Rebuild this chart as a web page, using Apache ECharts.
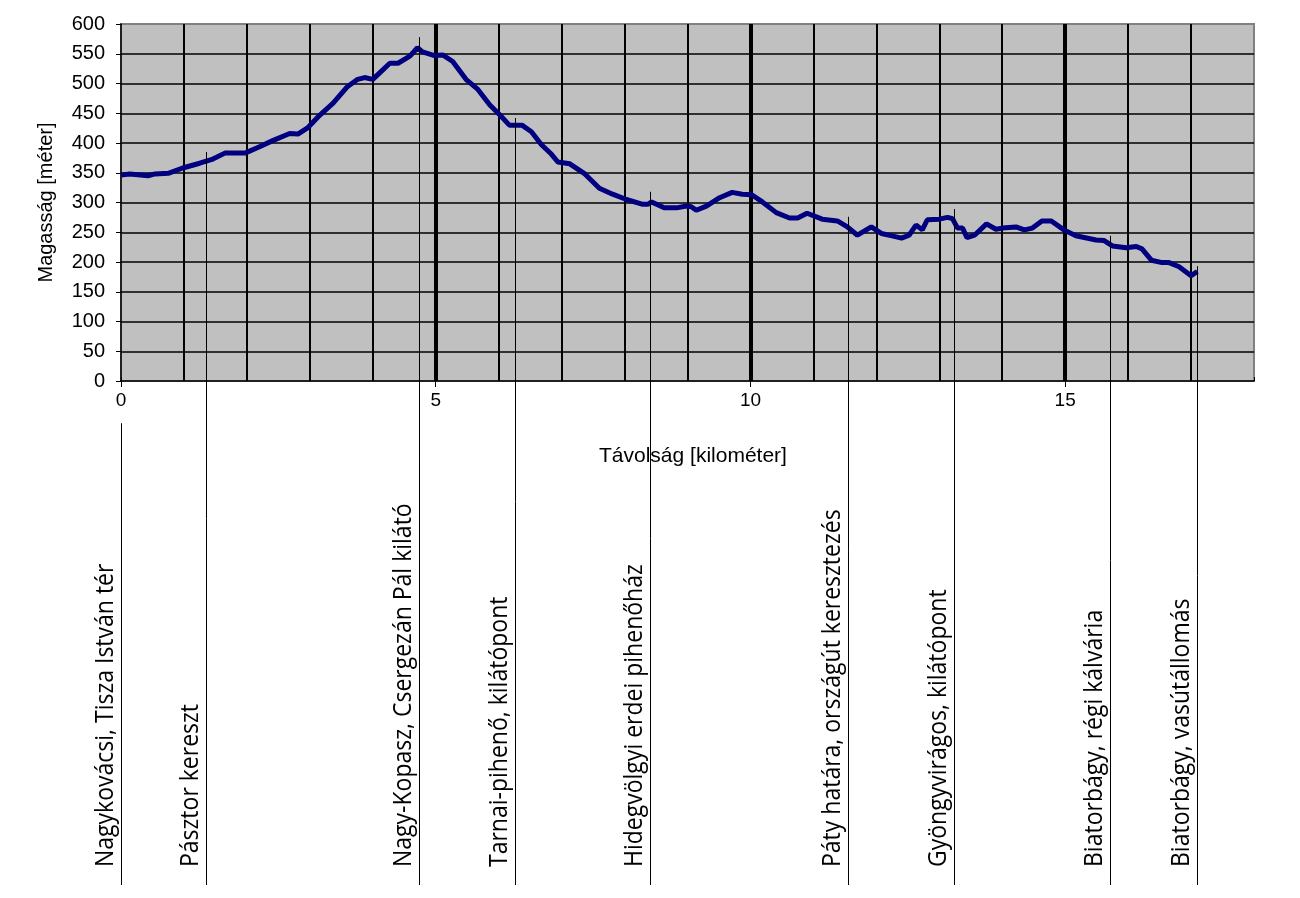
<!DOCTYPE html>
<html>
<head>
<meta charset="utf-8">
<script src="https://cdn.jsdelivr.net/npm/echarts@6/dist/echarts.min.js"></script>
<style>html,body{margin:0;padding:0;background:#fff;}#chart{width:1300px;height:898px;}</style>
</head>
<body>
<div id="chart"></div>
<script>
// Distance along route [km]
const distanceKm = [0.00,0.14,0.43,0.54,0.75,0.98,1.25,1.46,1.65,1.97,2.21,2.41,2.68,2.81,2.97,3.16,3.37,3.59,3.76,3.87,4.00,4.16,4.27,4.40,4.59,4.71,4.79,4.98,5.11,5.27,5.49,5.67,5.86,6.02,6.17,6.37,6.52,6.68,6.84,6.94,7.13,7.37,7.60,7.81,8.03,8.29,8.37,8.43,8.63,8.83,8.98,9.06,9.14,9.30,9.51,9.71,9.87,10.02,10.19,10.41,10.62,10.75,10.90,11.14,11.38,11.54,11.70,11.92,12.08,12.25,12.40,12.52,12.63,12.73,12.81,13.00,13.13,13.21,13.29,13.37,13.44,13.56,13.75,13.90,14.00,14.22,14.35,14.48,14.63,14.78,14.98,15.17,15.49,15.62,15.75,15.97,16.13,16.22,16.37,16.54,16.65,16.81,17.00,17.10];
// Elevation [m]
const elevationM = [346,348,345,348,349,358,366,373,383,383,394,404,416,415,426,447,467,494,507,510,507,523,534,534,546,560,553,547,548,537,506,490,464,447,430,430,419,397,381,368,365,348,324,314,305,297,297,301,291,291,294,293,287,294,308,317,314,313,301,283,274,274,282,272,269,259,245,259,248,244,240,245,262,254,271,272,275,273,257,257,241,245,264,255,257,259,254,257,269,269,254,244,237,236,227,224,226,222,203,199,199,192,177,184];

// Waypoints: name, distance [km], elevation where the marker line starts [m]
const waypointNames = ["Nagykovácsi, Tisza István tér","Pásztor kereszt","Nagy-Kopasz, Csergezán Pál kilátó","Tarnai-pihenő, kilátópont","Hidegvölgyi erdei pihenőház","Páty határa, országút keresztezés","Gyöngyvirágos, kilátópont","Biatorbágy, régi kálvária","Biatorbágy, vasútállomás"];
const waypointKm = [0.00,1.35,4.73,6.26,8.40,11.55,13.23,15.72,17.10];
const waypointTopM = [-71,385,578,442,318,276,289,244,193];

// Major distance marks (thick lines + labels)
const majorKm = [0,5,10,15];
const yTicks = {min:0,max:600,interval:50};
const xTicks = {min:0,max:18,minor:1};

const profile = distanceKm.map((d,i)=>[d, elevationM[i]]);
const waypoints = waypointNames.map((n,i)=>[waypointKm[i], waypointTopM[i], n]);

const chart = echarts.init(document.getElementById('chart'), null, {renderer:'canvas'});
const LINE_BOTTOM = 885, LABEL_BASE = 865;
const AX_FONT = 'Liberation Sans';

chart.setOption({
  animation:false,
  backgroundColor:'#ffffff',
  grid:{left:121,right:46,top:24,bottom:517,show:true,backgroundColor:'#c0c0c0',borderColor:'#808080',borderWidth:2},
  xAxis:[{
    type:'value',min:xTicks.min,max:xTicks.max,interval:xTicks.minor,
    axisLine:{show:true,lineStyle:{color:'#000',width:1.5}},
    axisTick:{show:true,inside:true,length:4,lineStyle:{color:'#000',width:1}},
    axisLabel:{show:false},
    splitLine:{show:true,showMinLine:false,showMaxLine:false,lineStyle:{color:'#000',width:2}}
  },{
    type:'value',min:xTicks.min,max:xTicks.max,position:'bottom',
    axisLine:{show:false},
    axisTick:{show:true,length:6,lineStyle:{color:'#000',width:1},customValues:majorKm},
    axisLabel:{show:true,margin:10,color:'#000',fontFamily:AX_FONT,fontSize:19,customValues:majorKm},
    splitLine:{show:false}
  }],
  yAxis:{
    type:'value',min:yTicks.min,max:yTicks.max,interval:yTicks.interval,
    name:'Magasság [méter]',nameLocation:'middle',nameGap:65,nameRotate:90,
    nameTextStyle:{color:'#000',fontFamily:AX_FONT,fontSize:20},
    axisLine:{show:true,lineStyle:{color:'#000',width:1.5}},
    axisTick:{show:true,length:5,lineStyle:{color:'#000',width:1}},
    axisLabel:{color:'#000',fontFamily:AX_FONT,fontSize:20,margin:16},
    splitLine:{show:true,showMinLine:false,showMaxLine:false,lineStyle:{color:'#000',width:1.5}}
  },
  graphic:[{
    type:'text',left:599,top:446,
    style:{text:'Távolság [kilométer]',font:'21px "Liberation Sans"',fill:'#000'}
  }],
  series:[{
    type:'line',data:[],xAxisIndex:0,z:1,silent:true,
    markLine:{silent:true,symbol:'none',label:{show:false},
      lineStyle:{color:'#000',width:4,type:'solid'},
      data:majorKm.filter(v=>v>xTicks.min).map(v=>({xAxis:v}))}
  },{
    type:'line',data:profile,xAxisIndex:0,showSymbol:false,smooth:false,z:5,
    lineStyle:{color:'#000080',width:5},
    silent:true
  },{
    type:'custom',xAxisIndex:0,data:waypoints,clip:false,z:6,silent:true,
    renderItem:function(params,api){
      const p = api.coord([api.value(0),api.value(1)]);
      const x = Math.round(p[0])+0.5;
      return {type:'group',children:[
        {type:'line',shape:{x1:x,y1:p[1],x2:x,y2:LINE_BOTTOM},style:{stroke:'#000',lineWidth:1}},
        {type:'text',x:x-3,y:LABEL_BASE+2,rotation:Math.PI/2,scaleY:1.1,
          style:{text:waypointNames[params.dataIndex],font:'23px "Open Sans"',fill:'#000',textAlign:'left',textVerticalAlign:'bottom'}}
      ]};
    }
  }]
});
</script>
</body>
</html>
